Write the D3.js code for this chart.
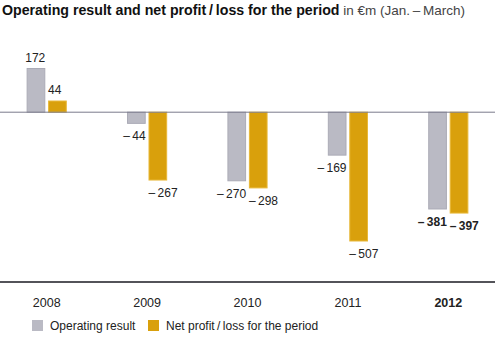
<!DOCTYPE html>
<html>
<head>
<meta charset="utf-8">
<script src="https://cdn.jsdelivr.net/npm/d3@7"></script>
<style>
  body { margin: 0; background: #fff; }
  svg { font-family: "Liberation Sans", Arial, Helvetica, sans-serif; }
</style>
</head>
<body>
<div id="chart"></div>
<script>
const years = ["2008", "2009", "2010", "2011", "2012"];
const operatingResult = [172, -44, -270, -169, -381];
const netProfit = [44, -267, -298, -507, -397];
const seriesNames = ["Operating result", "Net profit\u2009/\u2009loss for the period"];

const width = 500, height = 338;
const colors = { op: "#babac4", opStroke: "#ababb6", net: "#d9a00c", netStroke: "#e8b838" };

const svg = d3.select("#chart").append("svg")
    .attr("width", width)
    .attr("height", height);

// title
const title = svg.append("text")
    .attr("x", 2)
    .attr("y", 15)
    .attr("font-size", 14.2)
    .attr("fill", "#111");
title.append("tspan").attr("font-weight", "bold")
    .text("Operating result and net profit\u2009/\u2009loss for the period");
title.append("tspan").attr("fill", "#444").attr("font-size", 13.5)
    .text(" in €m (Jan.\u2009–\u2009March)");

const x = d3.scaleBand()
    .domain(years)
    .range([-3.5, 498.5])
    .paddingInner(0.6)
    .paddingOuter(0.3);

const xSub = d3.scaleBand()
    .domain(["op", "net"])
    .range([0, x.bandwidth()])
    .paddingInner(0.13);

const y = d3.scaleLinear()
    .domain([-507, 172])
    .range([241, 68.5]);

const data = years.map((yr, i) => ({ year: yr, op: operatingResult[i], net: netProfit[i] }));

const fmt = v => v < 0 ? "\u2013\u2009" + Math.abs(v) : String(v);

const groups = svg.selectAll(".grp")
    .data(data)
    .enter()
    .append("g")
    .attr("class", "grp")
    .attr("transform", d => `translate(${x(d.year)},0)`);

["op", "net"].forEach(key => {
    groups.append("rect")
        .attr("x", xSub(key) + 0.5)
        .attr("width", xSub.bandwidth() - 1)
        .attr("y", d => Math.min(y(d[key]), y(0)))
        .attr("height", d => Math.abs(y(d[key]) - y(0)))
        .attr("fill", colors[key])
        .attr("stroke", key === "op" ? colors.opStroke : colors.netStroke)
        .attr("stroke-width", 1);

    groups.append("text")
        .attr("x", key === "op" ? xSub(key) + xSub.bandwidth() : xSub(key))
        .attr("y", d => d[key] >= 0 ? y(d[key]) - 7 : y(d[key]) + 17)
        .attr("text-anchor", key === "op" ? "end" : "start")
        .attr("font-size", 12)
        .attr("font-weight", d => d.year === "2012" ? "bold" : "normal")
        .attr("fill", "#222")
        .text(d => fmt(d[key]));
});

// zero line
svg.append("line")
    .attr("x1", 0).attr("x2", 495)
    .attr("y1", y(0)).attr("y2", y(0))
    .attr("stroke", "#7a7a8c")
    .attr("stroke-width", 1);

// bottom axis
const axisY = 282;
svg.append("line")
    .attr("x1", 0).attr("x2", 495)
    .attr("y1", axisY).attr("y2", axisY)
    .attr("stroke", "#1a1a22")
    .attr("stroke-width", 1.6);

svg.selectAll(".yr")
    .data(years)
    .enter()
    .append("text")
    .attr("class", "yr")
    .attr("x", d => x(d) + x.bandwidth() / 2)
    .attr("y", 306.5)
    .attr("text-anchor", "middle")
    .attr("font-size", 12.5)
    .attr("font-weight", d => d === "2012" ? "bold" : "normal")
    .attr("fill", "#222")
    .text(d => d);

// legend
const legendX = [32, 148];
const legend = svg.selectAll(".leg")
    .data(seriesNames)
    .enter()
    .append("g")
    .attr("class", "leg")
    .attr("transform", (d, i) => `translate(${legendX[i]},320)`);

legend.append("rect")
    .attr("width", 11)
    .attr("height", 11)
    .attr("fill", (d, i) => i === 0 ? colors.op : colors.net);

legend.append("text")
    .attr("x", 18)
    .attr("y", 10)
    .attr("font-size", 12)
    .attr("fill", "#222")
    .text(d => d);
</script>
</body>
</html>
